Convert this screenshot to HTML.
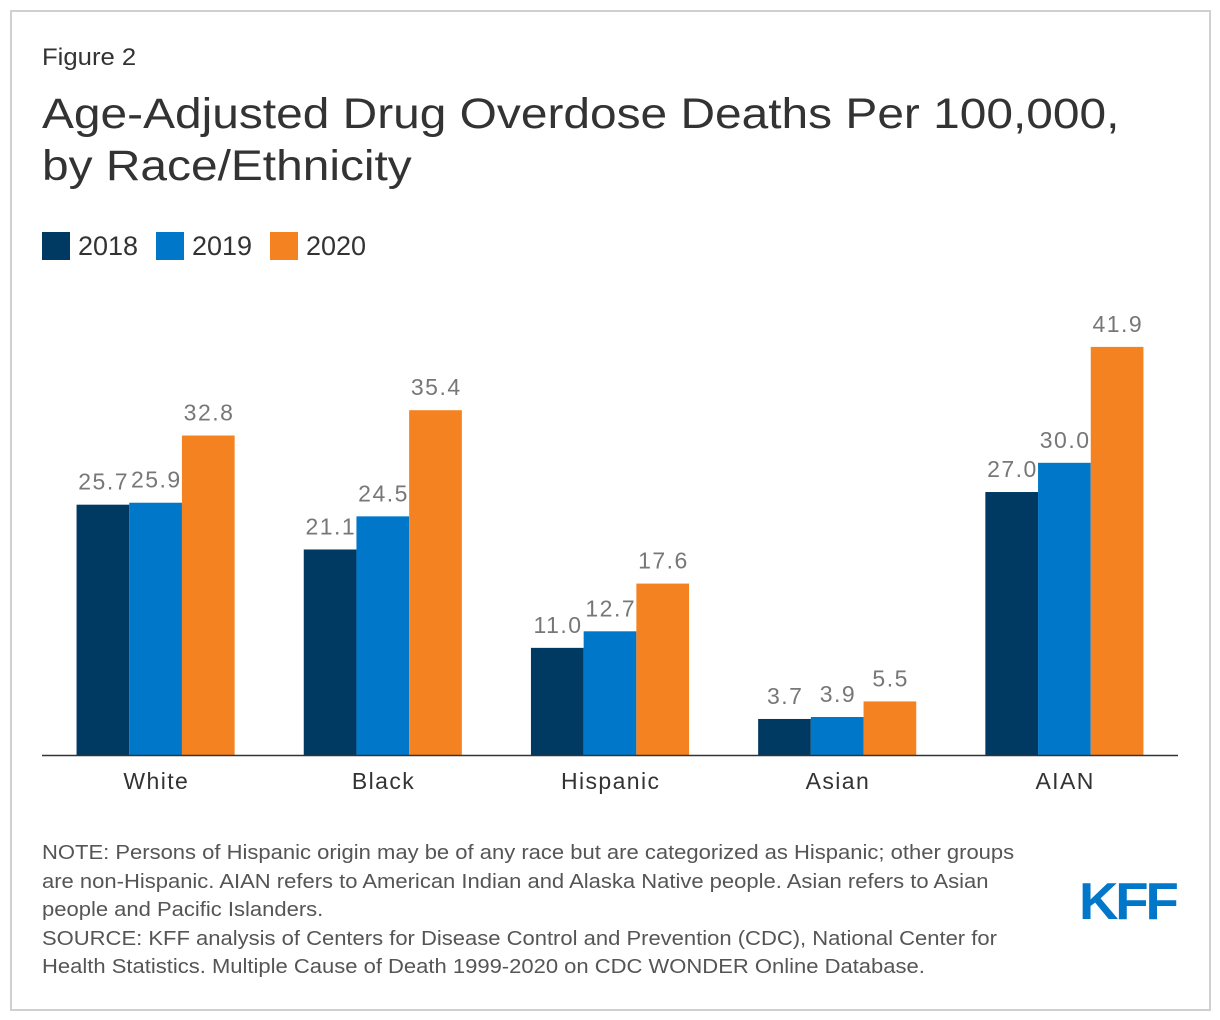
<!DOCTYPE html>
<html><head><meta charset="utf-8"><style>
body{margin:0;width:1220px;height:1020px;background:#fff;font-family:"Liberation Sans",Arial,sans-serif;position:relative;overflow:hidden}
.frame{position:absolute;left:10px;top:10px;width:1197px;height:997px;border:2px solid #d0d0d0}
.t{position:absolute;color:#333;white-space:nowrap;transform-origin:left top}
</style></head><body>
<div class="frame"></div>
<div class="t" style="left:42px;top:44px;font-size:24px;transform:scaleX(1.07)">Figure 2</div>
<div class="t" style="left:42px;top:88px;font-size:43px;line-height:52px;transform:scaleX(1.113)">Age-Adjusted Drug Overdose Deaths Per 100,000,<br>by Race/Ethnicity</div>
<div>
<div style="position:absolute;left:42px;top:232px;width:28px;height:28px;background:#003a63"></div>
<div class="t" style="left:78px;top:231px;font-size:27px">2018</div>
<div style="position:absolute;left:156px;top:232px;width:28px;height:28px;background:#0077c8"></div>
<div class="t" style="left:192px;top:231px;font-size:27px">2019</div>
<div style="position:absolute;left:270px;top:232px;width:28px;height:28px;background:#f58220"></div>
<div class="t" style="left:306px;top:231px;font-size:27px">2020</div>
</div>
<svg id="chart" width="1220" height="1020" style="position:absolute;left:0;top:0"></svg>
<div class="t" style="left:42px;top:839px;font-size:20px;line-height:28.5px;color:#555;transform:scaleX(1.1)">NOTE: Persons of Hispanic origin may be of any race but are categorized as Hispanic; other groups<br>are non-Hispanic. AIAN refers to American Indian and Alaska Native people. Asian refers to Asian<br>people and Pacific Islanders.<br>SOURCE: KFF analysis of Centers for Disease Control and Prevention (CDC), National Center for<br>Health Statistics. Multiple Cause of Death 1999-2020 on CDC WONDER Online Database.</div>
<div class="t" style="left:1079px;top:872px;font-size:52px;font-weight:bold;color:#0077c8;letter-spacing:-3px;transform:scaleX(1.05)">KFF</div>
<script>
const categories=["White","Black","Hispanic","Asian","AIAN"];
const seriesNames=["2018","2019","2020"];
const v2018=[25.7,21.1,11.0,3.7,27.0];
const v2019=[25.9,24.5,12.7,3.9,30.0];
const v2020=[32.8,35.4,17.6,5.5,41.9];
const colors=["#003a63","#0077c8","#f58220"];
const NS="http://www.w3.org/2000/svg";
const svg=document.getElementById('chart');
const x0=42,x1=1178,base=755,scale=9.74,bw=52.7;
const step=(x1-x0)/categories.length;
const y=v=>base-v*scale;
const cx=i=>x0+step*(i+0.5);
function mk(t,a){const e=document.createElementNS(NS,t);for(const k in a)e.setAttribute(k,a[k]);svg.appendChild(e);return e;}
[v2018,v2019,v2020].forEach((vals,s)=>{
  vals.forEach((v,i)=>{
    const bx=cx(i)-1.5*bw+s*bw;
    const r=mk('rect',{x:bx,y:y(v),width:bw,height:base-y(v),fill:colors[s]});
    
    
    const t=mk('text',{x:bx+bw/2+0.75,y:y(v)-15,'text-anchor':'middle','font-size':23,'letter-spacing':1.5,fill:'#777','font-family':'Liberation Sans, Arial, sans-serif'});
    t.textContent=v.toFixed(1);
    
    
  });
});
const ax=mk('line',{x1:x0,x2:x1,y1:base+0.5,y2:base+0.5,stroke:'#333','stroke-width':1.5});


categories.forEach((c,i)=>{
  const t=mk('text',{x:cx(i)+0.7,y:789,'text-anchor':'middle','font-size':23,'letter-spacing':1.4,fill:'#333','font-family':'Liberation Sans, Arial, sans-serif'});
  t.textContent=c;
  
  
});
</script>
</body></html>
